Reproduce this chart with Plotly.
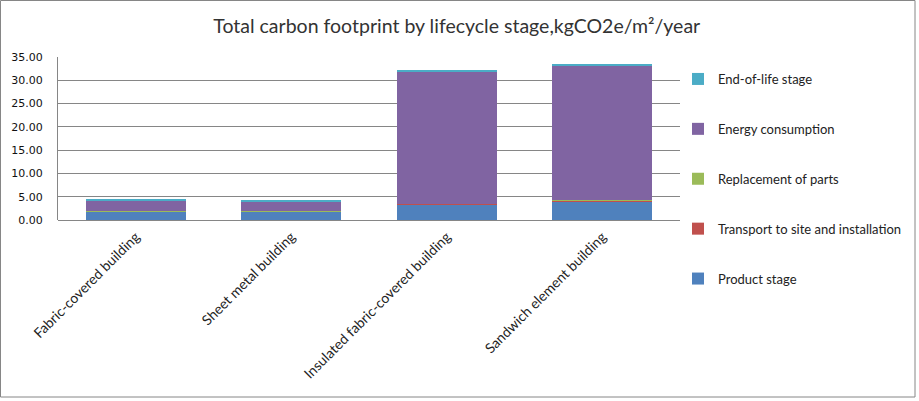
import plotly.graph_objects as go

categories = ["Fabric-covered building", "Sheet metal building",
              "Insulated fabric-covered building", "Sandwich element building"]
product_stage = [1.85, 1.75, 3.40, 4.05]
transport = [0.04, 0.04, 0.06, 0.06]
replacement = [0.04, 0.04, 0.06, 0.08]
energy = [2.32, 2.22, 28.34, 28.99]
end_of_life = [0.05, 0.05, 0.15, 0.20]
y_ticks = [0, 5, 10, 15, 20, 25, 30, 35]

series = [
    ("Product stage", product_stage, "#4F81BD"),
    ("Transport to site and installation", transport, "#C0504D"),
    ("Replacement of parts", replacement, "#9BBB59"),
    ("Energy consumption", energy, "#8064A2"),
    ("End-of-life stage", end_of_life, "#4BACC6"),
]

W, H = 919, 401
L, R, T, B = 58, 239, 57, 181
pw, ph = W - L - R, H - T - B

fig = go.Figure()
for i, (name, vals, col) in enumerate(series):
    fig.add_trace(go.Bar(x=categories, y=vals, name=name, marker_color=col,
                         marker_line_width=0, legendgroup=str(i),
                         legendrank=100 - i))

fig.update_layout(
    width=W, height=H, barmode="stack", bargap=0.357,
    margin=dict(l=L, r=R, t=T, b=B, autoexpand=False),
    paper_bgcolor="white", plot_bgcolor="white",
    title=dict(text="Total carbon footprint by lifecycle stage,kgCO2e/m²/year",
               x=0.497, xanchor="center", y=1 - 26 / H, yanchor="middle",
               font=dict(family="Lato", size=19.5, color="#333333")),
    legend=dict(traceorder="grouped", tracegroupgap=30, maxheight=380,
                yref="container", xref="paper",
                x=(678 - L) / pw, xanchor="left", y=1 - 64 / H, yanchor="top",
                font=dict(family="Lato", size=13, color="#222222"),
                itemwidth=30, bgcolor="rgba(0,0,0,0)"),
    xaxis=dict(tickangle=-45, showline=False, ticks="", ticklabelstandoff=5,
               tickfont=dict(family="Lato", size=14, color="#222222")),
    yaxis=dict(range=[0, 35], tickvals=y_ticks, tickformat=".2f",
               showgrid=True, gridcolor="#868686", gridwidth=1,
               showline=True, linecolor="#868686", linewidth=1,
               zeroline=True, zerolinecolor="#868686", zerolinewidth=1,
               ticks="", ticklabelstandoff=12,
               tickfont=dict(family="DejaVu Sans", size=11, color="#111111")),
    shapes=[dict(type="rect", xref="paper", yref="paper",
                 x0=(0.5 - L) / pw, x1=(915 - L) / pw,
                 y0=-(397 - (H - B)) / ph, y1=1 + (T - 0.5) / ph,
                 line=dict(color="#868686", width=1))],
)

fig.write_html("out.html", config={"displayModeBar": False},
               post_script="document.body.style.margin='0';")
